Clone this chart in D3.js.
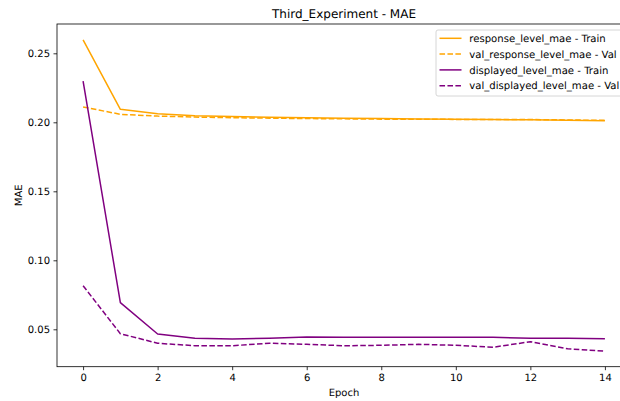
<!DOCTYPE html>
<html><head><meta charset="utf-8">
<script src="https://cdn.jsdelivr.net/npm/d3@7"></script>
<style>body{margin:0;background:#fff}svg{display:block}text{font-family:"DejaVu Sans",sans-serif;fill:#000;text-rendering:geometricPrecision}</style>
</head><body>
<svg id="c" width="620" height="401"></svg>
<script>
const epochs = d3.range(0, 15);
const responseTrain = [0.2597, 0.2094, 0.2062, 0.2048, 0.2042, 0.2037, 0.2033, 0.2030, 0.2027, 0.2024, 0.2022, 0.2020, 0.2018, 0.2015, 0.2012];
const responseVal   = [0.2111, 0.2058, 0.2045, 0.2038, 0.2033, 0.2030, 0.2027, 0.2025, 0.2023, 0.2022, 0.2021, 0.2020, 0.2020, 0.2017, 0.2014];
const displayedTrain = [0.2299, 0.0693, 0.0466, 0.0435, 0.0430, 0.0435, 0.0444, 0.0442, 0.0442, 0.0442, 0.0442, 0.0442, 0.0435, 0.0435, 0.0432];
const displayedVal   = [0.0816, 0.0468, 0.0399, 0.0381, 0.0381, 0.0399, 0.0391, 0.0381, 0.0384, 0.0391, 0.0384, 0.0370, 0.0410, 0.0359, 0.0341];
const xTicks = [0, 2, 4, 6, 8, 10, 12, 14];
const yTicks = [0.05, 0.10, 0.15, 0.20, 0.25];
const seriesNames = ["response_level_mae - Train", "val_response_level_mae - Val", "displayed_level_mae - Train", "val_displayed_level_mae - Val"];
const series = [
  {name: seriesNames[0], values: responseTrain, color: "#FFA500", dash: null},
  {name: seriesNames[1], values: responseVal, color: "#FFA500", dash: "5.55,2.4"},
  {name: seriesNames[2], values: displayedTrain, color: "#800080", dash: null},
  {name: seriesNames[3], values: displayedVal, color: "#800080", dash: "5.55,2.4"}
];

const svg = d3.select("#c");
const L = 57, R = 631, T = 24, B = 366.7;
const x = d3.scaleLinear().domain([-0.7, 14.7]).range([L, R]);
const y = d3.scaleLinear().domain([0.05, 0.25]).range([329.3, 53.3]);

// lines
const line = d3.line().x((d, i) => x(epochs[i])).y(d => y(d));
series.forEach(s => {
  svg.append("path").datum(s.values).attr("d", line)
    .attr("fill", "none").attr("stroke", s.color).attr("stroke-width", 1.5)
    .attr("stroke-dasharray", s.dash).attr("stroke-linejoin", "round");
});

// axes
const xAxis = d3.axisBottom(x).tickValues(xTicks).tickFormat(d3.format("d")).tickSize(3.5).tickPadding(3.5);
const gx = svg.append("g").attr("transform", `translate(0,${B})`).call(xAxis);
const yAxis = d3.axisLeft(y).tickValues(yTicks).tickFormat(d3.format(".2f")).tickSize(3.5).tickPadding(3.5);
const gy = svg.append("g").attr("transform", `translate(${L},0)`).call(yAxis);
[gx, gy].forEach(g => {
  g.select(".domain").remove();
  g.selectAll("line").attr("stroke", "#000").attr("stroke-width", 0.8);
  g.selectAll("text").attr("font-size", 10).attr("font-family", "DejaVu Sans").attr("fill", "#000");
});

// spines
svg.append("rect").attr("x", L).attr("y", T).attr("width", R - L).attr("height", B - T)
  .attr("fill", "none").attr("stroke", "#000").attr("stroke-width", 0.8);

// labels
svg.append("text").attr("x", (L + R) / 2).attr("y", 17.5).attr("text-anchor", "middle")
  .attr("font-size", 12).text("Third_Experiment - MAE");
svg.append("text").attr("x", (L + R) / 2).attr("y", 395.5).attr("text-anchor", "middle")
  .attr("font-size", 10).text("Epoch");
svg.append("text").attr("transform", `translate(21.5,${(T + B) / 2}) rotate(-90)`)
  .attr("text-anchor", "middle").attr("font-size", 10).text("MAE");

// legend
const lg = svg.append("g");
lg.append("rect").attr("x", 436).attr("y", 30).attr("width", 190).attr("height", 66).attr("rx", 2)
  .attr("fill", "#fff").attr("fill-opacity", 0.8).attr("stroke", "#cccccc").attr("stroke-width", 0.8);
series.forEach((s, i) => {
  const cy = 38.3 + i * 15.8;
  lg.append("line").attr("x1", 439.5).attr("x2", 461.5).attr("y1", cy).attr("y2", cy)
    .attr("stroke", s.color).attr("stroke-width", 1.5).attr("stroke-dasharray", s.dash);
  lg.append("text").attr("x", 469.3).attr("y", cy + 3.6).attr("font-size", 10.1).text(s.name);
});
</script>
</body></html>
